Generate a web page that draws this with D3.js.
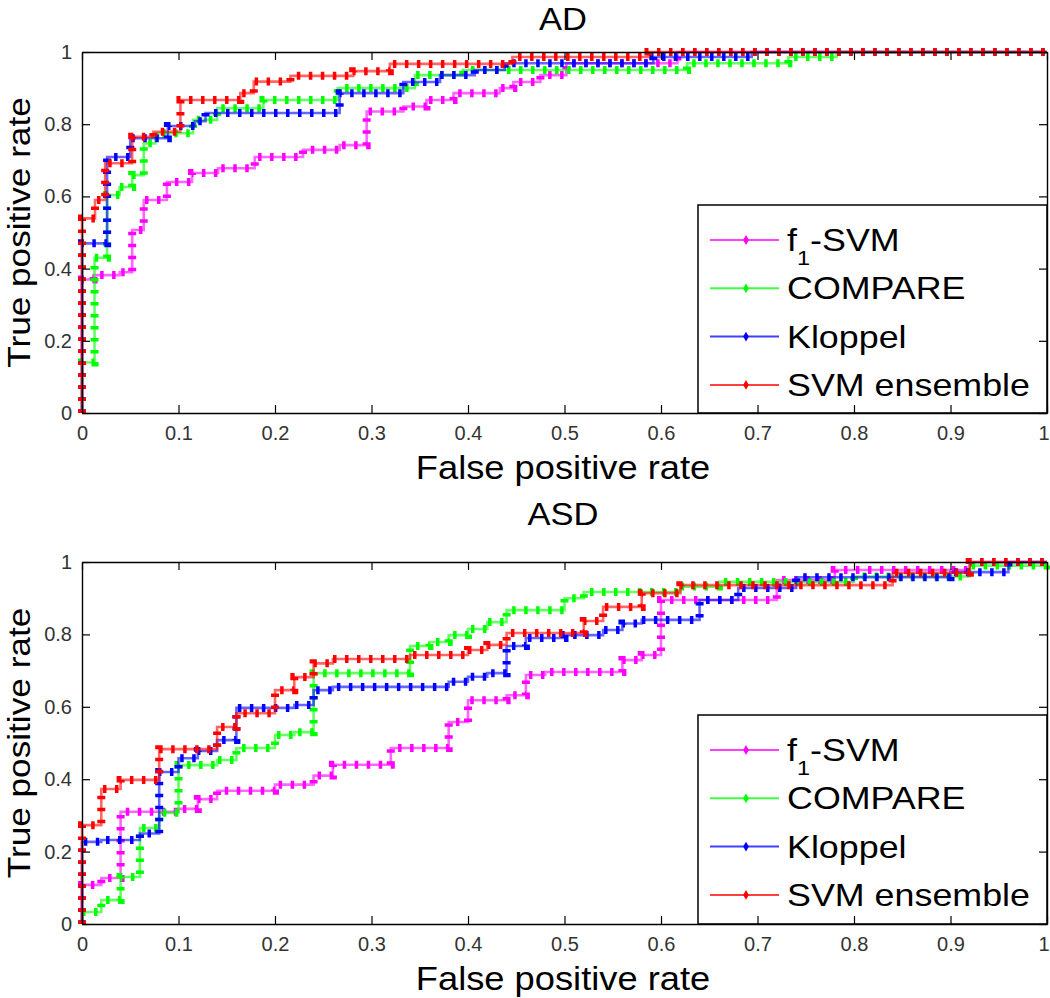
<!DOCTYPE html>
<html><head><meta charset="utf-8">
<script src="https://cdn.jsdelivr.net/npm/d3@7"></script>
<style>body{margin:0;background:#fff} text{font-family:"Liberation Sans", Arial, sans-serif}</style>
</head><body><svg id="c" width="1050" height="998"></svg>
<script>
const seriesNames = ["f1-SVM", "COMPARE", "Kloppel", "SVM ensemble"];
const seriesColors = ["#ff00ff", "#00ff00", "#0000ff", "#ff0000"];
const xTicks = [0, 0.1, 0.2, 0.3, 0.4, 0.5, 0.6, 0.7, 0.8, 0.9, 1];
const yTicks = [0, 0.2, 0.4, 0.6, 0.8, 1];
const panelTitles = ["AD", "ASD"];
const xLabel = "False positive rate";
const yLabel = "True positive rate";

// AD panel: ROC vertices [false positive rate, true positive rate]
const adF1SVM = [[0,0],[0,0.37],[0.012,0.37],[0.012,0.382],[0.039,0.382],[0.039,0.39],[0.052,0.39],[0.052,0.507],[0.064,0.507],[0.064,0.59],[0.088,0.59],[0.088,0.64],[0.114,0.64],[0.114,0.665],[0.141,0.665],[0.141,0.678],[0.179,0.678],[0.179,0.709],[0.229,0.709],[0.229,0.729],[0.267,0.729],[0.267,0.742],[0.295,0.742],[0.295,0.835],[0.333,0.835],[0.333,0.849],[0.357,0.849],[0.357,0.867],[0.385,0.867],[0.385,0.886],[0.433,0.886],[0.433,0.9],[0.447,0.9],[0.447,0.917],[0.475,0.917],[0.475,0.936],[0.502,0.936],[0.502,0.969],[0.617,0.969],[0.617,1],[1,1]];
const adCOMPARE = [[0,0],[0,0.14],[0.013,0.14],[0.013,0.43],[0.026,0.43],[0.026,0.604],[0.039,0.604],[0.039,0.626],[0.052,0.626],[0.052,0.659],[0.064,0.659],[0.064,0.747],[0.076,0.747],[0.076,0.775],[0.115,0.775],[0.115,0.812],[0.14,0.812],[0.14,0.844],[0.188,0.844],[0.188,0.867],[0.265,0.867],[0.265,0.9],[0.345,0.9],[0.345,0.936],[0.395,0.936],[0.395,0.95],[0.627,0.95],[0.627,0.969],[0.732,0.969],[0.732,0.986],[0.782,0.986],[0.782,1],[1,1]];
const adKloppel = [[0,0],[0,0.47],[0.026,0.47],[0.026,0.709],[0.05,0.709],[0.05,0.761],[0.089,0.761],[0.089,0.795],[0.117,0.795],[0.117,0.808],[0.128,0.808],[0.128,0.831],[0.267,0.831],[0.267,0.886],[0.333,0.886],[0.333,0.917],[0.371,0.917],[0.371,0.936],[0.407,0.936],[0.407,0.95],[0.438,0.95],[0.438,0.969],[0.592,0.969],[0.592,0.986],[0.694,0.986],[0.694,1],[1,1]];
const adSVMEnsemble = [[0,0],[0,0.539],[0.0135,0.539],[0.0135,0.59],[0.024,0.59],[0.024,0.692],[0.052,0.692],[0.052,0.765],[0.074,0.765],[0.074,0.779],[0.102,0.779],[0.102,0.867],[0.164,0.867],[0.164,0.886],[0.178,0.886],[0.178,0.918],[0.216,0.918],[0.216,0.934],[0.281,0.934],[0.281,0.947],[0.319,0.947],[0.319,0.967],[0.446,0.967],[0.446,0.986],[0.587,0.986],[0.587,1],[1,1]];

// ASD panel
const asdF1SVM = [[0,0],[0,0.108],[0.02,0.108],[0.02,0.127],[0.04,0.127],[0.04,0.31],[0.1,0.31],[0.1,0.318],[0.12,0.318],[0.12,0.345],[0.14,0.345],[0.14,0.368],[0.2,0.368],[0.2,0.385],[0.24,0.385],[0.24,0.41],[0.26,0.41],[0.26,0.44],[0.32,0.44],[0.32,0.486],[0.38,0.486],[0.38,0.558],[0.4,0.558],[0.4,0.618],[0.44,0.618],[0.44,0.632],[0.46,0.632],[0.46,0.688],[0.48,0.688],[0.48,0.696],[0.56,0.696],[0.56,0.729],[0.58,0.729],[0.58,0.743],[0.6,0.743],[0.6,0.895],[0.72,0.895],[0.72,0.95],[0.78,0.95],[0.78,0.978],[0.92,0.978],[0.92,1],[1,1]];
const asdCOMPARE = [[0,0],[0,0.033],[0.02,0.033],[0.02,0.066],[0.04,0.066],[0.04,0.13],[0.06,0.13],[0.06,0.265],[0.08,0.265],[0.08,0.307],[0.1,0.307],[0.1,0.439],[0.14,0.439],[0.14,0.453],[0.16,0.453],[0.16,0.486],[0.2,0.486],[0.2,0.522],[0.22,0.522],[0.22,0.53],[0.24,0.53],[0.24,0.693],[0.34,0.693],[0.34,0.768],[0.36,0.768],[0.36,0.779],[0.38,0.779],[0.38,0.798],[0.4,0.798],[0.4,0.815],[0.42,0.815],[0.42,0.834],[0.44,0.834],[0.44,0.867],[0.5,0.867],[0.5,0.9],[0.52,0.9],[0.52,0.917],[0.62,0.917],[0.62,0.932],[0.66,0.932],[0.66,0.945],[0.8,0.945],[0.8,0.96],[0.92,0.96],[0.92,0.99],[1,0.99],[1,1]];
const asdKloppel = [[0,0],[0,0.227],[0.02,0.227],[0.02,0.232],[0.06,0.232],[0.06,0.25],[0.08,0.25],[0.08,0.42],[0.1,0.42],[0.1,0.458],[0.12,0.458],[0.12,0.478],[0.14,0.478],[0.14,0.508],[0.16,0.508],[0.16,0.597],[0.22,0.597],[0.22,0.605],[0.24,0.605],[0.24,0.646],[0.26,0.646],[0.26,0.655],[0.38,0.655],[0.38,0.669],[0.4,0.669],[0.4,0.683],[0.42,0.683],[0.42,0.693],[0.44,0.693],[0.44,0.768],[0.46,0.768],[0.46,0.79],[0.5,0.79],[0.5,0.798],[0.54,0.798],[0.54,0.812],[0.56,0.812],[0.56,0.83],[0.58,0.83],[0.58,0.84],[0.64,0.84],[0.64,0.895],[0.68,0.895],[0.68,0.928],[0.74,0.928],[0.74,0.958],[0.9,0.958],[0.9,0.972],[0.96,0.972],[0.96,1],[1,1]];
const asdSVMEnsemble = [[0,0],[0,0.273],[0.02,0.273],[0.02,0.373],[0.04,0.373],[0.04,0.398],[0.08,0.398],[0.08,0.483],[0.14,0.483],[0.14,0.544],[0.16,0.544],[0.16,0.582],[0.2,0.582],[0.2,0.646],[0.22,0.646],[0.22,0.682],[0.24,0.682],[0.24,0.72],[0.26,0.72],[0.26,0.732],[0.34,0.732],[0.34,0.743],[0.4,0.743],[0.4,0.757],[0.42,0.757],[0.42,0.771],[0.44,0.771],[0.44,0.804],[0.52,0.804],[0.52,0.837],[0.54,0.837],[0.54,0.876],[0.58,0.876],[0.58,0.914],[0.62,0.914],[0.62,0.936],[0.84,0.936],[0.84,0.97],[0.92,0.97],[0.92,1],[1,1]];

const panels = [
  {title: panelTitles[0], series: [adF1SVM, adCOMPARE, adKloppel, adSVMEnsemble], top: 52, bottom: 413, titleY: 30},
  {title: panelTitles[1], series: [asdF1SVM, asdCOMPARE, asdKloppel, asdSVMEnsemble], top: 562, bottom: 924, titleY: 525}
];

const svg = d3.select("#c");
const left = 82, right = 1047;
const x = d3.scaleLinear().domain([0, 1]).range([left, right]);
const fmt = d => String(+d.toFixed(1));

function stext(parent, tx, ty, str, size, sx, rot) {
  const g = parent.append("g").attr("transform", `translate(${tx},${ty})${rot ? ` rotate(${rot})` : ""} scale(${sx},1)`);
  return g.append("text").attr("text-anchor", "middle").attr("font-size", size).attr("fill", "#000").text(str);
}

function styleAxis(sel) {
  sel.attr("font-family", null).attr("font-size", null);
  sel.select(".domain").attr("stroke", "#000").attr("stroke-width", 1.4);
  sel.selectAll(".tick line").attr("stroke", "#000").attr("stroke-width", 1.2);
  sel.selectAll(".tick text").attr("fill", "#333").attr("font-size", 20)
     .attr("font-family", '"Liberation Sans", Arial, sans-serif');
}

panels.forEach(p => {
  const y = d3.scaleLinear().domain([0, 1]).range([p.bottom, p.top]);
  const line = d3.line().x(d => x(d[0])).y(d => y(d[1]));
  const g = svg.append("g");

  p.series.forEach((data, i) => {
    g.append("path").attr("d", line(data)).attr("fill", "none")
      .attr("stroke", seriesColors[i]).attr("stroke-width", 2.6).attr("stroke-opacity", 0.6);
    g.append("path").attr("d", line(data)).attr("fill", "none")
      .attr("stroke", seriesColors[i]).attr("stroke-width", 8).attr("stroke-dasharray", "3.5,8.5");
  });

  // legend
  const lgTop = p.top + 153, lgLeft = 698;
  const lg = svg.append("g");
  lg.append("rect").attr("x", lgLeft).attr("y", lgTop).attr("width", right - lgLeft).attr("height", p.bottom - lgTop)
    .attr("fill", "#fff").attr("stroke", "#000").attr("stroke-width", 1.5);
  seriesNames.forEach((name, i) => {
    const ry = lgTop + 35 + i * 48.3;
    lg.append("line").attr("x1", 710).attr("x2", 779).attr("y1", ry).attr("y2", ry)
      .attr("stroke", seriesColors[i]).attr("stroke-width", 2).attr("stroke-opacity", 0.75);
    lg.append("path").attr("d", d3.symbol(d3.symbolDiamond, 28)()).attr("transform", `translate(746,${ry})`)
      .attr("fill", seriesColors[i]);
    const tg = lg.append("g").attr("transform", `translate(787,${ry + 11}) scale(1.12,1)`);
    const t = tg.append("text").attr("font-size", 32).attr("fill", "#000");
    if (name.startsWith("f1")) {
      t.append("tspan").text("f");
      t.append("tspan").attr("font-size", 21).attr("dy", 14).text("1");
      t.append("tspan").attr("dy", -14).text(name.slice(2));
    } else {
      t.text(name);
    }
  });

  // axes
  const xb = svg.append("g").attr("transform", `translate(0,${p.bottom})`)
    .call(d3.axisBottom(x).tickValues(xTicks).tickSize(-8).tickSizeOuter(0).tickPadding(13).tickFormat(fmt)).call(styleAxis);
  // keep the last label "1" inside the page
  xb.selectAll(".tick text").filter(d => d === 1).attr("text-anchor", "end").attr("x", 2);
  svg.append("g").attr("transform", `translate(0,${p.top})`)
    .call(d3.axisTop(x).tickValues(xTicks).tickSize(-8).tickSizeOuter(0).tickFormat("")).call(styleAxis);
  svg.append("g").attr("transform", `translate(${left},0)`)
    .call(d3.axisLeft(y).tickValues(yTicks).tickSize(-8).tickSizeOuter(0).tickPadding(10).tickFormat(fmt)).call(styleAxis);
  svg.append("g").attr("transform", `translate(${right},0)`)
    .call(d3.axisRight(y).tickValues(yTicks).tickSize(-8).tickSizeOuter(0).tickFormat("")).call(styleAxis);

  stext(svg, 563, p.titleY, p.title, 32, 1.08);
  stext(svg, 563, p.bottom + 66, xLabel, 33, 1.1);
  stext(svg, 30, (p.top + p.bottom) / 2, yLabel, 32, 1.1, -90);
});
</script></body></html>
